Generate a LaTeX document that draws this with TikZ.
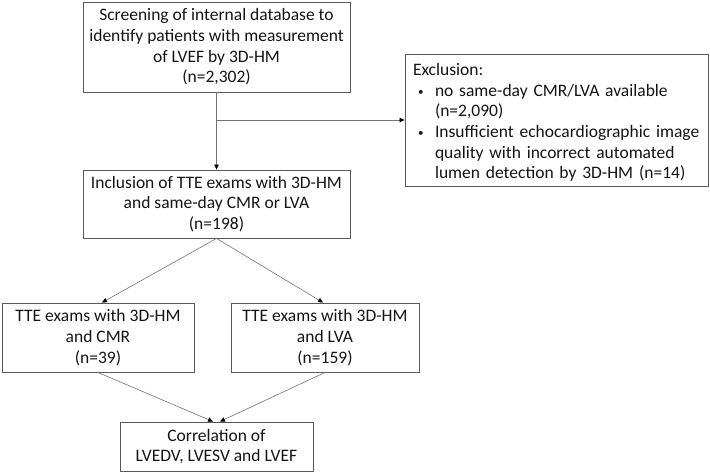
\documentclass[tikz,border=0pt]{standalone}
\usepackage{fontspec}
\setmainfont{Carlito}
\usetikzlibrary{arrows.meta}
\definecolor{boxc}{RGB}{90,90,90}
\definecolor{arrc}{RGB}{115,115,115}
\definecolor{txtc}{RGB}{20,20,20}
\newcommand{\smbul}{\makebox[22pt][l]{\hspace{5pt}\raisebox{1pt}{\fontsize{11}{11}\selectfont\textbullet}}}
\begin{document}
\begin{tikzpicture}[x=1pt,y=-1pt,
  box/.style={draw=boxc, line width=0.9pt, align=center, inner sep=0pt,
    font=\fontsize{17.5}{20.7}\selectfont, text=txtc},
  arr/.style={draw=arrc, line width=0.6pt, -{Triangle[length=5pt,width=4.5pt,color=black]}}]
\useasboundingbox (0,0) rectangle (710,472);
\node[box, minimum width=267pt, minimum height=90pt] (screen) at (216.5,47)
  {Screening of internal database to\\identify patients with measurement\\of LVEF by 3D-HM\\(n=2,302)};
\node[box, minimum width=267pt, minimum height=68pt] (incl) at (216.5,204)
  {Inclusion of TTE exams with 3D-HM\\and same-day CMR or LVA\\(n=198)};
\node[box, minimum width=303pt, minimum height=132pt, align=left, text width=287pt] (excl) at (556.5,120)
  {\rule{0pt}{17pt}Exclusion:\\
   \smbul no same-day CMR/LVA available\\
   \hspace*{22pt}(n=2,090)\\
   \smbul Insufficient echocardiographic image\\
   \hspace*{22pt}quality with incorrect automated\\
   \hspace*{22pt}lumen detection by 3D-HM (n=14)};
\node[box, minimum width=192pt, minimum height=69pt] (cmr) at (98,337.5)
  {TTE exams with 3D-HM\\and CMR\\(n=39)};
\node[box, minimum width=188pt, minimum height=69pt] (lva) at (325,337.5)
  {TTE exams with 3D-HM\\and LVA\\(n=159)};
\node[box, minimum width=193pt, minimum height=49pt] (corr) at (216.5,446.5)
  {Correlation of\\LVEDV, LVESV and LVEF};
\coordinate (br) at (216.5,120);
\draw[arr] (screen) -- (incl);
\draw[arr] (br) -- (excl);
\draw[arr] (incl.south) -- ([xshift=4pt]cmr.north);
\draw[arr] (incl.south) -- ([xshift=-2pt]lva.north);
\draw[arr] (cmr.south) -- ([xshift=-3.5pt]corr.north);
\draw[arr] (lva.south) -- ([xshift=3.5pt]corr.north);
\end{tikzpicture}
\end{document}
